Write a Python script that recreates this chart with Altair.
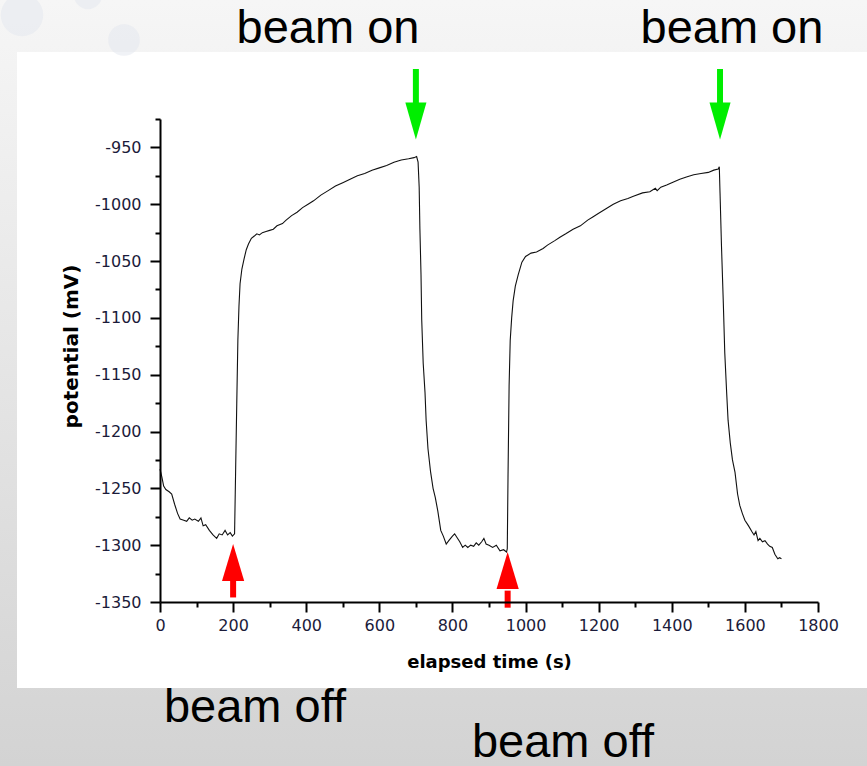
import altair as alt
import pandas as pd

# ---- measured series (elapsed time in s, potential in mV) ----
time_s = [0, 5, 10, 16, 25, 32, 40, 48, 55, 65, 73, 80, 88, 95, 105, 112, 118, 125, 135, 145,
          155, 162, 170, 178, 185, 192, 198, 204,
          207, 210, 213, 216, 219, 224, 230, 236, 242, 250, 258, 265, 272, 280, 290, 300, 310,
          320, 335, 345, 360, 375, 390, 405, 420, 440, 460, 480, 500, 520, 540, 560, 580, 600,
          620, 640, 660, 680, 695, 702,
          706, 709, 711, 714, 716, 720, 725, 728, 733, 740, 747, 753, 760, 768, 775, 783, 790,
          800, 806, 812, 820, 828, 835, 842, 850, 858, 865, 872, 880, 886, 892, 900, 910, 920,
          930, 940, 948, 950,
          952, 955, 958, 962, 966, 972, 980, 990, 1000, 1015, 1030, 1048, 1060, 1080, 1094, 1110,
          1130, 1150, 1170, 1185, 1200, 1220, 1240, 1260, 1280, 1295, 1320, 1340, 1355, 1360,
          1370, 1386, 1400, 1422, 1440, 1460, 1480, 1500, 1515, 1527, 1530,
          1532, 1536, 1541, 1545, 1550, 1554, 1560, 1566, 1573, 1580, 1586, 1593, 1600, 1610,
          1619, 1625, 1630, 1636, 1641, 1648, 1655, 1662, 1668, 1675, 1682, 1690, 1695, 1700]
potential_mV = [-1233, -1240, -1248, -1251, -1253, -1255, -1264, -1272, -1277, -1278, -1279, -1276,
                -1278, -1277, -1279, -1276, -1283, -1282, -1287, -1291, -1294, -1290, -1291, -1287,
                -1291, -1289, -1292, -1290,
                -1232, -1175, -1120, -1090, -1070, -1057, -1048, -1040, -1035, -1030, -1028, -1026,
                -1027, -1025, -1024, -1023, -1022, -1019, -1017, -1014, -1010, -1007, -1003, -1000,
                -997, -992, -988, -984, -981, -978, -975, -973, -970, -968, -966, -963, -961, -960,
                -959, -958,
                -963, -985, -1022, -1062, -1102, -1140, -1166, -1190, -1215, -1235, -1250, -1258,
                -1270, -1287, -1292, -1299, -1296, -1292, -1290, -1293, -1297, -1302, -1300, -1302,
                -1300, -1301, -1298, -1300, -1297, -1294, -1299, -1300, -1302, -1300, -1305, -1304,
                -1306, -1303,
                -1240, -1160, -1120, -1100, -1085, -1072, -1062, -1051, -1046, -1043, -1042, -1039,
                -1036, -1032, -1029, -1026, -1022, -1019, -1014, -1011, -1008, -1004, -1000, -997,
                -995, -993, -990, -989, -986, -988, -985, -983, -981, -978, -976, -974, -973, -972,
                -970, -969, -967,
                -990, -1037, -1087, -1131, -1165, -1190, -1210, -1225, -1236, -1255, -1265, -1272,
                -1278, -1283, -1288, -1291, -1288, -1296, -1294, -1297, -1296, -1299, -1301, -1302,
                -1308, -1312, -1311, -1312]

# ---- annotation arrows (data units) ----
beam_on_t = [700, 1532]
beam_on_tip = [-943, -943]
beam_on_base = [-911, -911]
beam_on_tail = [-881, -881]
beam_off_t = [200, 951]
beam_off_tip = [-1299, -1306]
beam_off_base = [-1331, -1340]
beam_off_tail = [-1346, -1355]

# ---- annotation texts (data units) ----
label_text = ["beam on", "beam on", "beam off", "beam off"]
label_t = [459.5, 1564.6, 259.8, 1102.3]
label_v = [-857.8, -857.8, -1455.8, -1486.7]

# ---- ticks ----
x_major = list(range(0, 1801, 200))
x_minor = list(range(100, 1800, 200))
y_major = list(range(-1350, -949, 50))
y_minor = list(range(-1325, -924, 50))

df = pd.DataFrame({"t": time_s, "v": potential_mV})
on_df = pd.DataFrame({"t": beam_on_t, "tip": beam_on_tip, "base": beam_on_base, "tail": beam_on_tail})
off_df = pd.DataFrame({"t": beam_off_t, "tip": beam_off_tip, "base": beam_off_base, "tail": beam_off_tail})
lab_df = pd.DataFrame({"text": label_text, "t": label_t, "v": label_v})
one = pd.DataFrame({"k": [0]})

xs = alt.Scale(domain=[0, 1800], nice=False, zero=False)
ys = alt.Scale(domain=[-1350, -925], nice=False, zero=False)

bg = alt.Chart(one).mark_rect(
    color=alt.Gradient(gradient="linear",
                       stops=[alt.GradientStop(color="#f6f6f6", offset=0),
                              alt.GradientStop(color="#d3d3d3", offset=1)],
                       x1=0, x2=0, y1=0, y2=1)
).encode(x=alt.value(-160), x2=alt.value(707), y=alt.value(-119), y2=alt.value(647))

panel = alt.Chart(one).mark_rect(color="white").encode(
    x=alt.value(-143), x2=alt.value(707), y=alt.value(-67), y2=alt.value(569))

bubbles = alt.Chart(pd.DataFrame({"bx": [-138, -36, -72], "by": [-104, -79, -124], "bs": [1800, 1000, 800]})).mark_circle(
    color="#e3e8ef", opacity=0.55).encode(
    x=alt.X("bx:Q", scale=None, axis=None), y=alt.Y("by:Q", scale=None, axis=None),
    size=alt.Size("bs:Q", scale=None, legend=None))

line = alt.Chart(df).mark_line(color="#111111", strokeWidth=1.1).encode(
    x=alt.X("t:Q", scale=xs, axis=alt.Axis(
        values=x_major, orient="bottom", tickSize=10, tickWidth=2, tickColor="black",
        domainWidth=2, domainColor="black", grid=False, zindex=1,
        labelExpr="datum.value + ''", labelFlush=False, labelOverlap=False,
        labelFont="DejaVu Sans", labelFontSize=16, labelColor="#1b1b3a", labelPadding=5,
        title="elapsed time (s)", titleFont="DejaVu Sans", titleFontWeight="bold",
        titleFontSize=18, titleColor="black", titleY=51, titleBaseline="top")),
    y=alt.Y("v:Q", scale=ys, axis=alt.Axis(
        values=y_major, orient="left", tickSize=10, tickWidth=2, tickColor="black",
        domainWidth=2, domainColor="black", grid=False, zindex=1,
        labelExpr="datum.value + ''", labelFlush=False, labelOverlap=False,
        labelFont="DejaVu Sans", labelFontSize=16, labelColor="#1b1b3a", labelPadding=9,
        title="potential (mV)", titleFont="DejaVu Sans", titleFontWeight="bold",
        titleFontSize=20, titleColor="black", titleX=-89, titleY=227, titleBaseline="middle")),
)

minor = alt.Chart(df).mark_line(opacity=0).encode(
    x=alt.X("t:Q", scale=xs, axis=alt.Axis(
        values=x_minor, orient="bottom", tickSize=5, tickWidth=2, tickColor="black",
        domain=False, labels=False, grid=False, title=None, zindex=1)),
    y=alt.Y("v:Q", scale=ys, axis=alt.Axis(
        values=y_minor, orient="left", tickSize=5, tickWidth=2, tickColor="black",
        domain=False, labels=False, grid=False, title=None, zindex=1)),
)

green = "#00ee00"
red = "#ff0000"
on_shaft = alt.Chart(on_df).mark_rule(color=green, strokeWidth=6).encode(
    x=alt.X("t:Q", scale=xs, axis=None), y=alt.Y("tail:Q", scale=ys, axis=None), y2="base:Q")
on_head = alt.Chart(on_df).mark_point(
    shape="M-0.57,-2L0.57,-2L0,0Z", filled=True, color=green, opacity=1, size=1369, strokeWidth=0
).encode(x=alt.X("t:Q", scale=xs, axis=None), y=alt.Y("tip:Q", scale=ys, axis=None))
off_shaft = alt.Chart(off_df).mark_rule(color=red, strokeWidth=6).encode(
    x=alt.X("t:Q", scale=xs, axis=None), y=alt.Y("tail:Q", scale=ys, axis=None), y2="base:Q")
off_head = alt.Chart(off_df).mark_point(
    shape="M-0.6,2L0.6,2L0,0Z", filled=True, color=red, opacity=1, size=1369, strokeWidth=0
).encode(x=alt.X("t:Q", scale=xs, axis=None), y=alt.Y("tip:Q", scale=ys, axis=None))

labels = alt.Chart(lab_df).mark_text(
    font="Liberation Sans", fontSize=47, color="black", align="center", baseline="alphabetic"
).encode(x=alt.X("t:Q", scale=xs, axis=None), y=alt.Y("v:Q", scale=ys, axis=None), text="text:N")

chart = alt.layer(bg, panel, bubbles, line, minor, on_shaft, on_head, off_shaft, off_head, labels).resolve_axis(
    x="independent", y="independent"
).properties(
    width=658, height=483,
    autosize=alt.AutoSizeParams(type="none"),
    padding={"left": 160, "top": 119, "right": 49, "bottom": 164},
).configure(background="#e0e0e0").configure_view(strokeWidth=0)

chart.save("out.html", embed_options={"renderer": "svg", "actions": False})
